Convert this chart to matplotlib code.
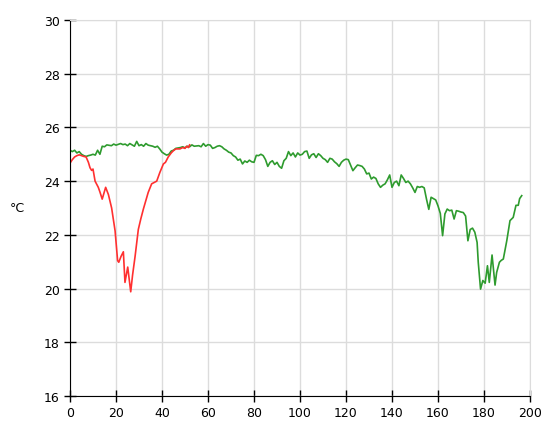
import matplotlib
matplotlib.use("Agg")
import matplotlib.pyplot as plt

# green series (x, temperature)
green_x = [0, 1, 2, 3, 4, 5, 6, 7, 8, 9, 10, 11, 12, 13, 14, 15, 16, 18, 19, 20,
           22, 23, 24, 25, 26, 27, 28, 29, 30, 31, 32, 33, 34, 36, 37, 38, 39, 40,
           41, 42, 43, 44, 45, 46, 48, 49, 50, 51, 52, 53, 54, 56, 57, 58, 59, 60,
           61, 62, 63, 64, 65, 66, 67, 68, 69, 70, 71, 72, 73, 74, 75, 76, 77, 78,
           79, 80, 81, 82, 83, 84, 85, 86, 87, 88, 89, 90, 91, 92, 93, 94, 95, 96,
           97, 98, 99, 100, 101, 102, 103, 104, 105, 106, 107, 108, 109, 110, 111,
           112, 113, 114, 115, 116, 117, 118, 119, 120, 121, 122, 123, 124, 125,
           126, 127, 128, 129, 130, 131, 132, 133, 134, 135, 136, 137, 138, 139,
           140, 141, 142, 143, 144, 145, 146, 147, 148, 149, 150, 151, 152, 153,
           154, 155, 156, 157, 158, 159, 160, 161, 162, 163, 164, 165, 166, 167,
           168, 169, 170, 171, 172, 173, 174, 175, 176, 177, 177.5, 178.5, 179.5,
           180.5, 181.5, 182.3, 183.5, 184.8, 185.5, 186.7, 187.5, 188.4, 189.9,
           191.3, 192.7, 193.9, 194.9, 195.5, 196.4]
green_y = [25.15, 25.10, 25.15, 25.05, 25.10, 25.00, 24.95, 24.92, 24.95, 24.97,
           25.00, 24.97, 25.15, 25.00, 25.30, 25.28, 25.35, 25.32, 25.38, 25.34,
           25.40, 25.36, 25.38, 25.32, 25.40, 25.35, 25.30, 25.48, 25.32, 25.36,
           25.30, 25.40, 25.34, 25.30, 25.26, 25.30, 25.20, 25.08, 25.02, 24.97,
           25.00, 25.12, 25.15, 25.22, 25.25, 25.28, 25.24, 25.30, 25.28, 25.35,
           25.30, 25.32, 25.28, 25.40, 25.30, 25.36, 25.34, 25.22, 25.25, 25.30,
           25.32, 25.28, 25.20, 25.15, 25.08, 25.05, 24.95, 24.90, 24.78, 24.82,
           24.64, 24.75, 24.70, 24.78, 24.72, 24.70, 24.96, 24.95, 25.00, 24.95,
           24.80, 24.55, 24.70, 24.76, 24.62, 24.70, 24.55, 24.48, 24.76, 24.85,
           25.10, 24.95, 25.05, 24.90, 25.05, 24.97, 25.00, 25.10, 25.12, 24.85,
           24.98, 25.02, 24.88, 25.02, 24.95, 24.85, 24.80, 24.70, 24.85, 24.82,
           24.72, 24.65, 24.55, 24.70, 24.78, 24.82, 24.80, 24.60, 24.39, 24.50,
           24.60, 24.58, 24.55, 24.45, 24.27, 24.30, 24.08, 24.15, 24.10, 23.90,
           23.77, 23.85, 23.90, 24.05, 24.23, 23.77, 23.95, 24.00, 23.83, 24.23,
           24.10, 23.95, 24.00, 23.90, 23.75, 23.58, 23.80, 23.77, 23.80, 23.75,
           23.33, 22.95, 23.40, 23.35, 23.30, 23.08, 22.80, 21.97, 22.78, 22.96,
           22.90, 22.92, 22.59, 22.90, 22.88, 22.85, 22.83, 22.70, 21.78, 22.20,
           22.25, 22.10, 21.72, 20.98, 19.98, 20.30, 20.20, 20.85, 20.23, 21.25,
           20.13, 20.60, 20.98, 21.05, 21.10, 21.78, 22.53, 22.65, 23.10, 23.10,
           23.35, 23.46]

# red series
red_x = [0, 1, 2, 3, 4, 5, 6, 7, 8, 8.7, 9.4, 10, 10.9, 12.3, 13, 14, 15.5, 16.7,
         18.1, 19.6, 20.7, 21.2, 22.2, 23.2, 23.9, 25.1, 26.4, 27.2, 28.3, 29.7,
         30.8, 31.9, 34, 35.5, 37.7, 39.1, 40.6, 41.5, 42.7, 44, 44.9, 46, 47.8,
         49, 50, 50.7, 51.5, 52]
red_y = [24.67, 24.80, 24.90, 24.95, 24.98, 24.95, 24.92, 24.90, 24.70, 24.50,
         24.40, 24.45, 24.00, 23.77, 23.60, 23.33, 23.77, 23.50, 23.00, 22.15,
         21.04, 20.98, 21.20, 21.37, 20.23, 20.80, 19.88, 20.50, 21.20, 22.20,
         22.60, 22.96, 23.58, 23.90, 24.00, 24.33, 24.64, 24.70, 24.90, 25.05,
         25.13, 25.20, 25.20, 25.25, 25.22, 25.30, 25.25, 25.35]

x_ticks = list(range(0, 201, 20))
y_ticks = list(range(16, 31, 2))

fig = plt.figure(figsize=(5.45, 4.27), dpi=100)
ax = fig.add_axes([70 / 545, 1 - 397 / 427, 460 / 545, 376 / 427])

ax.plot(green_x, green_y, color="#2e9b2e", lw=1.2)
ax.plot(red_x, red_y, color="#ff3030", lw=1.2)

ax.set_xlim(0, 200)
ax.set_ylim(16, 30)
ax.set_xticks(x_ticks)
ax.set_yticks(y_ticks)
ax.grid(color="#dcdcdc", lw=1)
ax.set_axisbelow(True)
for s in ("top", "right"):
    ax.spines[s].set_color("#dcdcdc")
for s in ("left", "bottom"):
    ax.spines[s].set_color("black")
ax.tick_params(direction="inout", length=8, width=1, labelsize=9, colors="black")
ax.set_ylabel("°C", rotation=0, fontsize=9, labelpad=19, va="center")

fig.savefig("out.png", dpi=100)
